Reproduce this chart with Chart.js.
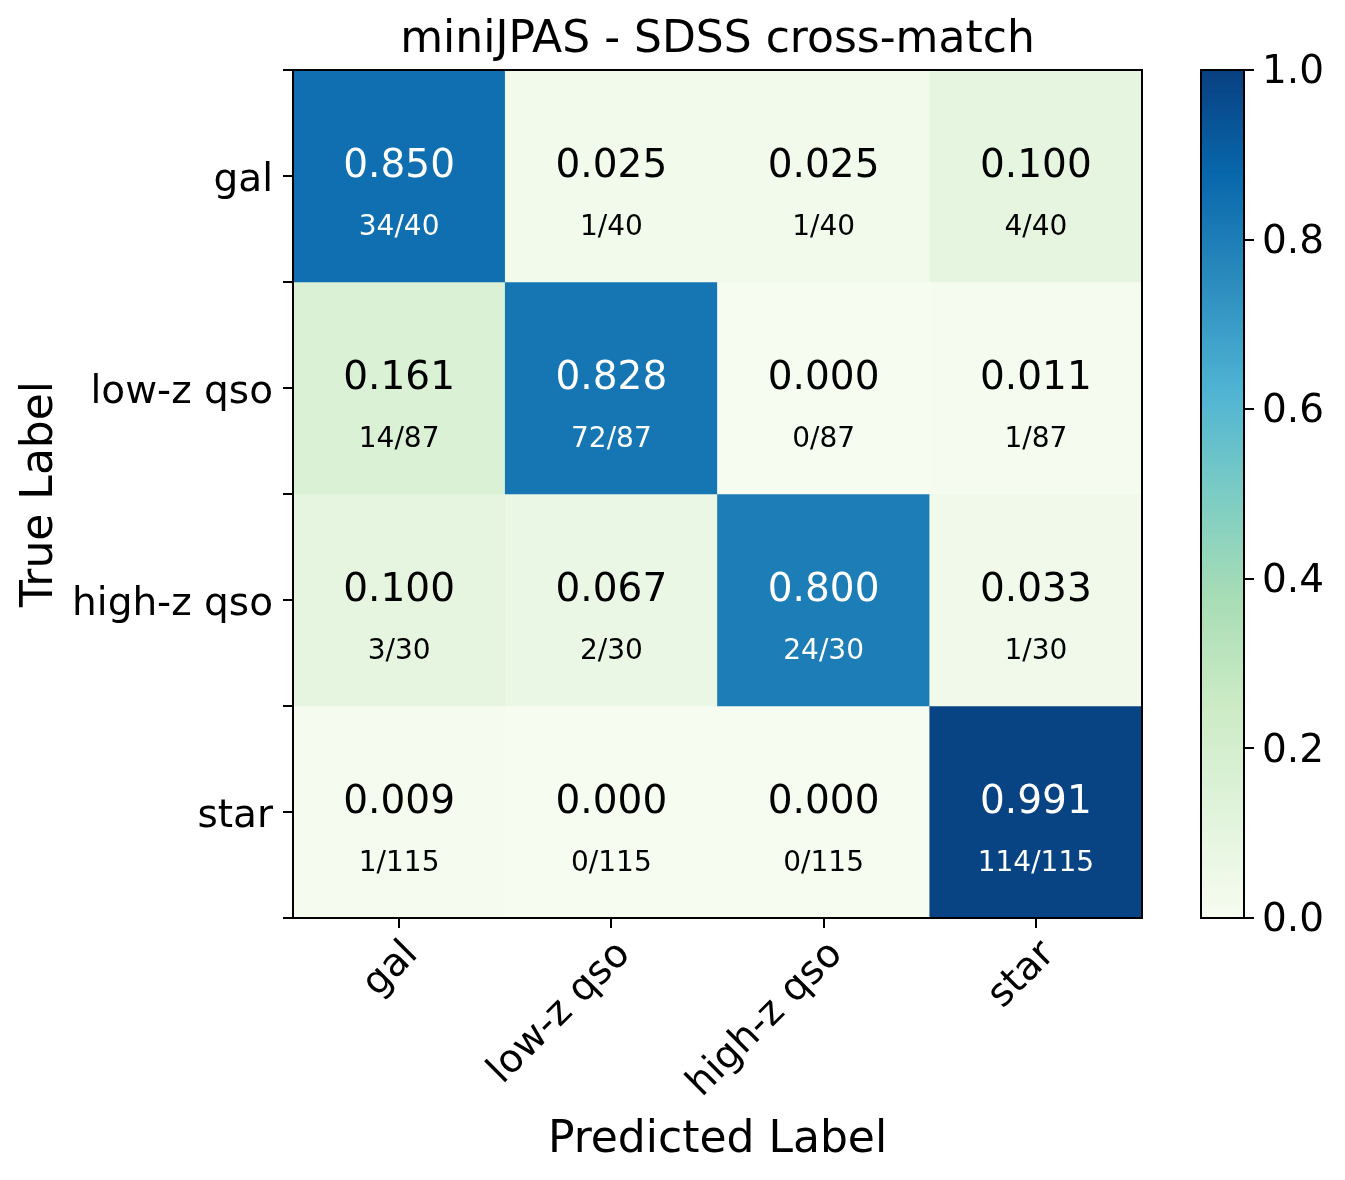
<!DOCTYPE html>
<html>
<head>
<meta charset="utf-8">
<script src="https://cdn.jsdelivr.net/npm/chart.js@4.4.1/dist/chart.umd.min.js"></script>
<style>
  html, body { margin: 0; padding: 0; background: #fff; }
  #wrap { position: relative; width: 1345px; height: 1180px; }
  #matrix { position: absolute; left: 0; top: 0; }
  #cbar   { position: absolute; left: 1150px; top: 0; }
</style>
</head>
<body>
<div id="wrap">
  <canvas id="matrix" width="1150" height="1180"></canvas>
  <canvas id="cbar" width="195" height="1180"></canvas>
</div>
<script>
// ── Data ──────────────────────────────────────────────────────────────────
const predLabels = ['gal', 'low-z qso', 'high-z qso', 'star'];
const trueLabels = ['gal', 'low-z qso', 'high-z qso', 'star'];

// rows = true label, cols = predicted label
const rateGal   = [0.850, 0.025, 0.025, 0.100];
const rateLowZ  = [0.161, 0.828, 0.000, 0.011];
const rateHighZ = [0.100, 0.067, 0.800, 0.033];
const rateStar  = [0.009, 0.000, 0.000, 0.991];
const rates = [rateGal, rateLowZ, rateHighZ, rateStar];

const countGal   = ['34/40', '1/40', '1/40', '4/40'];
const countLowZ  = ['14/87', '72/87', '0/87', '1/87'];
const countHighZ = ['3/30', '2/30', '24/30', '1/30'];
const countStar  = ['1/115', '0/115', '0/115', '114/115'];
const counts = [countGal, countLowZ, countHighZ, countStar];

const cbarTicks = [0, 0.2, 0.4, 0.6, 0.8, 1.0];

// ── GnBu colormap ─────────────────────────────────────────────────────────
const GNBU = ['#f7fcf0', '#e0f3db', '#ccebc5', '#a8ddb5', '#7bccc4',
              '#4eb3d3', '#2b8cbe', '#0868ac', '#084081'];

function hexRgb(h) {
    return [1, 3, 5].map(i => parseInt(h.substr(i, 2), 16));
}

function gnbu(v) {
    const t = Math.max(0, Math.min(1, v)) * (GNBU.length - 1);
    const i = Math.min(Math.floor(t), GNBU.length - 2);
    const f = t - i;
    const a = hexRgb(GNBU[i]), b = hexRgb(GNBU[i + 1]);
    const c = a.map((x, k) => Math.round(x + (b[k] - x) * f));
    return 'rgb(' + c.join(',') + ')';
}

const FONT = 'DejaVu Sans';

// ── Plugins ───────────────────────────────────────────────────────────────
const framePlugin = {
    id: 'frame',
    afterDatasetsDraw(chart) {
        const { ctx, chartArea: a } = chart;
        ctx.save();
        ctx.strokeStyle = '#000';
        ctx.lineWidth = 2;
        ctx.strokeRect(a.left, a.top, a.right - a.left, a.bottom - a.top);
        ctx.restore();
    }
};

const cellTextPlugin = {
    id: 'cellText',
    afterDatasetsDraw(chart) {
        const { ctx, scales: { x, y }, chartArea: a } = chart;
        ctx.save();
        ctx.textAlign = 'center';
        ctx.textBaseline = 'middle';
        rates.forEach((row, r) => {
            row.forEach((v, c) => {
                const px = x.getPixelForValue(c);
                ctx.fillStyle = v > 0.5 ? '#fff' : '#000';
                ctx.font = '39px "' + FONT + '"';
                ctx.fillText(v.toFixed(3), px, y.getPixelForValue(r - 0.042));
                ctx.font = '28px "' + FONT + '"';
                ctx.fillText(counts[r][c], px, y.getPixelForValue(r + 0.245));
            });
        });
        // title
        ctx.fillStyle = '#000';
        ctx.font = '44px "' + FONT + '"';
        ctx.fillText('miniJPAS - SDSS cross-match', (a.left + a.right) / 2, 41);
        ctx.restore();
    }
};

// ── Matrix chart ──────────────────────────────────────────────────────────
const datasets = rates.map((row, r) => ({
    label: trueLabels[r],
    data: row.map(() => [r - 0.5, r + 0.5]),
    backgroundColor: row.map(v => gnbu(v)),
    borderWidth: 0,
    barPercentage: 1,
    categoryPercentage: 1,
    grouped: false
}));

new Chart(document.getElementById('matrix'), {
    type: 'bar',
    data: { labels: predLabels, datasets },
    options: {
        responsive: false,
        animation: false,
        layout: { padding: { top: 70, left: 0, right: 8, bottom: 0 } },
        plugins: { legend: { display: false }, tooltip: { enabled: false } },
        scales: {
            x: {
                offset: true,
                afterFit: s => { s.height = 262; },
                grid: { offset: false, drawOnChartArea: false, color: '#000', lineWidth: 2, tickLength: 10 },
                border: { display: false },
                ticks: { color: '#000', font: { family: FONT, size: 39 }, minRotation: 45, maxRotation: 45, padding: 4, labelOffset: 13 },
                title: { display: true, text: 'Predicted Label', color: '#000', font: { family: FONT, size: 44 }, padding: { top: 0, bottom: 13 } }
            },
            y: {
                type: 'linear',
                reverse: true,
                min: -0.5,
                max: 3.5,
                afterFit: s => { s.width = 293; },
                afterBuildTicks: s => {
                    s.ticks = [-0.5, 0, 0.5, 1, 1.5, 2, 2.5, 3, 3.5].map(v => ({ value: v }));
                },
                grid: { drawOnChartArea: false, color: '#000', lineWidth: 2, tickLength: 10 },
                border: { display: false },
                ticks: {
                    color: '#000',
                    font: { family: FONT, size: 39 },
                    padding: 10,
                    labelOffset: 5,
                    callback: v => Number.isInteger(v) ? trueLabels[v] : ''
                },
                title: { display: true, text: 'True Label', color: '#000', font: { family: FONT, size: 44 }, padding: { top: 14, bottom: 0 } }
            }
        }
    },
    plugins: [cellTextPlugin, framePlugin]
});

// ── Colorbar chart ────────────────────────────────────────────────────────
new Chart(document.getElementById('cbar'), {
    type: 'bar',
    data: {
        labels: [''],
        datasets: [{
            data: [[0, 1]],
            borderWidth: 0,
            barPercentage: 1,
            categoryPercentage: 1,
            backgroundColor: ctx => {
                const { chart } = ctx;
                if (!chart.chartArea) return GNBU[0];
                const ys = chart.scales.y;
                const g = chart.ctx.createLinearGradient(0, ys.getPixelForValue(0), 0, ys.getPixelForValue(1));
                GNBU.forEach((col, i) => g.addColorStop(i / (GNBU.length - 1), col));
                return g;
            }
        }]
    },
    options: {
        responsive: false,
        animation: false,
        layout: { padding: { top: 70, left: 51, right: 0, bottom: 262 } },
        plugins: { legend: { display: false }, tooltip: { enabled: false } },
        scales: {
            x: { display: false },
            y: {
                position: 'right',
                min: 0,
                max: 1,
                afterFit: s => { s.width = 101; },
                afterBuildTicks: s => { s.ticks = cbarTicks.map(v => ({ value: v })); },
                grid: { drawOnChartArea: false, color: '#000', lineWidth: 2, tickLength: 10 },
                border: { display: false },
                ticks: { color: '#000', font: { family: FONT, size: 39 }, padding: 8, labelOffset: 3, callback: v => v.toFixed(1) }
            }
        }
    },
    plugins: [framePlugin]
});
</script>
</body>
</html>
